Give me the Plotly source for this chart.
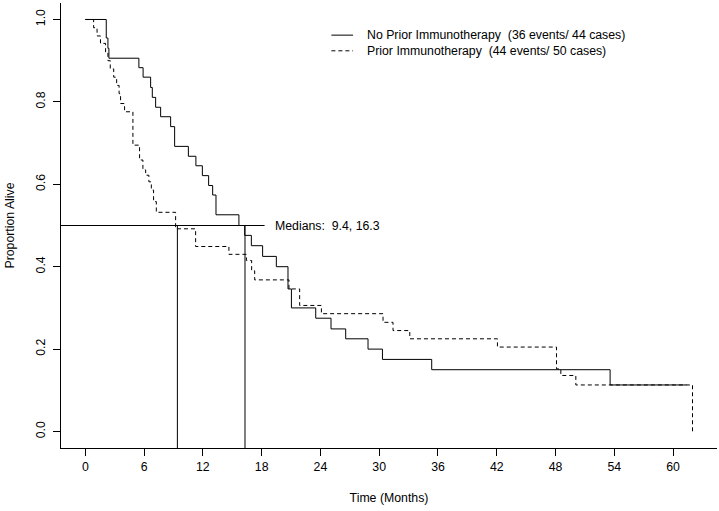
import plotly.graph_objects as go

# ---- data ----
no_prior_time = [0, 2.14, 2.31, 2.41, 5.47, 5.9, 6.67, 6.84, 7.18, 7.69, 8.71, 9.12,
                 10.52, 11.29, 11.95, 12.59, 13.0, 13.34, 15.68, 16.27, 16.95, 18.1,
                 19.5, 20.69, 21.04, 23.52, 25.08, 26.58, 28.86, 30.33, 35.36, 53.57, 61.37]
no_prior_surv = [1.0, 0.955, 0.93, 0.906, 0.883, 0.86, 0.835, 0.811, 0.787, 0.764, 0.74, 0.692,
                 0.668, 0.645, 0.621, 0.597, 0.574, 0.526, 0.50, 0.476, 0.451, 0.425,
                 0.40, 0.346, 0.30, 0.275, 0.249, 0.225, 0.20, 0.175, 0.15, 0.113, 0.113]

prior_time = [0, 0.85, 1.2, 1.55, 2.07, 2.31, 2.55, 2.9, 3.2, 3.45, 3.6, 4.01, 4.86, 5.54,
              5.88, 6.16, 6.49, 6.74, 6.97, 7.25, 9.22, 11.26, 14.66, 16.44, 16.98, 17.29,
              20.79, 21.88, 24.1, 30.39, 31.41, 33.12, 42.07, 48.1, 48.54, 50.07, 61.98]
prior_surv = [1.0, 0.98, 0.96, 0.942, 0.92, 0.90, 0.88, 0.86, 0.84, 0.82, 0.796, 0.776, 0.695, 0.659,
              0.635, 0.622, 0.606, 0.586, 0.558, 0.532, 0.492, 0.449, 0.43, 0.415, 0.39, 0.368,
              0.346, 0.306, 0.286, 0.265, 0.245, 0.225, 0.205, 0.152, 0.136, 0.113, 0.0]

medians = [9.4, 16.3]
median_level = 0.5
series_names = ["No Prior Immunotherapy  (36 events/ 44 cases)",
                "Prior Immunotherapy  (44 events/ 50 cases)"]
x_ticks = [0, 6, 12, 18, 24, 30, 36, 42, 48, 54, 60]
y_ticks = [0.0, 0.2, 0.4, 0.6, 0.8, 1.0]
y_tick_labels = ["0.0", "0.2", "0.4", "0.6", "0.8", "1.0"]

FONT = "Liberation Sans, Arial, Helvetica, sans-serif"
FS = 12.3
DASH = "4px,3px"
X_RANGE = [-2.48, 64.48]
Y_RANGE = [-0.04, 1.04]


def nb(s):
    return s.replace("  ", "&nbsp; ")


fig = go.Figure()
fig.add_trace(go.Scatter(x=no_prior_time, y=no_prior_surv, mode="lines", line_shape="hv",
                         line=dict(color="black", width=1), name=series_names[0],
                         showlegend=False, hoverinfo="skip"))
fig.add_trace(go.Scatter(x=prior_time, y=prior_surv, mode="lines", line_shape="hv",
                         line=dict(color="black", width=1, dash=DASH), name=series_names[1],
                         showlegend=False, hoverinfo="skip"))

# median guide lines
fig.add_shape(type="line", xref="x", yref="y", x0=X_RANGE[0], x1=max(medians) + 2,
              y0=median_level, y1=median_level, line=dict(color="black", width=1))
for m in medians:
    fig.add_shape(type="line", xref="x", yref="y", x0=m, x1=m, y0=median_level, y1=Y_RANGE[0],
                  line=dict(color="black", width=1))
fig.add_annotation(x=max(medians) + 2, y=median_level, xref="x", yref="y", xanchor="left",
                   yanchor="middle", xshift=8, showarrow=False,
                   text=nb("Medians:  " + ", ".join(f"{m:.1f}" for m in medians)),
                   font=dict(family=FONT, size=FS, color="black"))

# legend (drawn manually to match the original layout)
leg_x0, leg_x1, leg_tx = 25.12, 27.33, 28.6
leg_y = [0.962, 0.924]
for i, (name, dash) in enumerate(zip(series_names, ["solid", DASH])):
    fig.add_shape(type="line", xref="x", yref="y", x0=leg_x0, x1=leg_x1, y0=leg_y[i], y1=leg_y[i],
                  line=dict(color="black", width=1, dash=dash))
    fig.add_annotation(x=leg_tx, y=leg_y[i], xref="x", yref="y", xanchor="left", yanchor="middle",
                       showarrow=False, text=nb(name),
                       font=dict(family=FONT, size=FS, color="black"))

fig.update_layout(
    width=719, height=511,
    margin=dict(l=61, r=2, t=3, b=63, autoexpand=False),
    paper_bgcolor="white", plot_bgcolor="white",
    font=dict(family=FONT, size=FS, color="black"),
    showlegend=False,
)
fig.update_xaxes(range=X_RANGE, tickvals=x_ticks, ticktext=[str(v) for v in x_ticks],
                 automargin=False,
                 showgrid=False, zeroline=False, showline=True, linecolor="black", linewidth=1,
                 ticks="outside", ticklen=7, tickcolor="black", tickwidth=1,
                 title=dict(text="Time (Months)", standoff=20,
                            font=dict(family=FONT, size=FS, color="black")),
                 tickfont=dict(family=FONT, size=FS, color="black"))
fig.update_yaxes(range=Y_RANGE, tickvals=y_ticks, ticktext=y_tick_labels, tickangle=-90,
                 automargin=False, ticklabelstandoff=3,
                 showgrid=False, zeroline=False, showline=True, linecolor="black", linewidth=1,
                 ticks="outside", ticklen=7, tickcolor="black", tickwidth=1,
                 title=dict(text="Proportion Alive", standoff=16,
                            font=dict(family=FONT, size=FS, color="black")),
                 tickfont=dict(family=FONT, size=FS, color="black"))

fig.write_html("out.html", config={"displayModeBar": False},
               post_script="document.body.style.margin='0';document.body.style.overflow='hidden';")
